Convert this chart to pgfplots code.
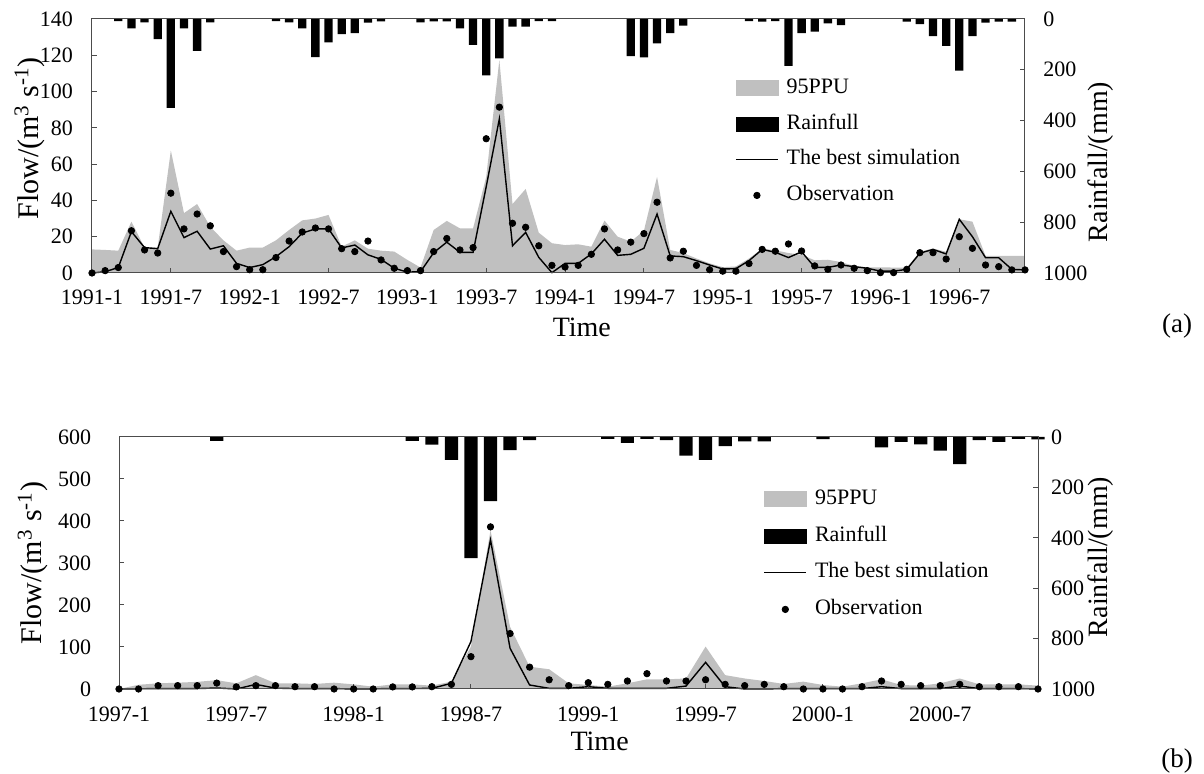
\documentclass[border=0pt]{standalone}
\usepackage{fontspec}
\setmainfont{Liberation Serif}
\usepackage{pgfplots}
\pgfplotsset{compat=1.18}
\usepackage{pgfplotstable}
\definecolor{bandgray}{RGB}{192,192,192}

\pgfplotstableread{
t band sim obs rain
0 13 0 0 nan
1 12.7 0.7 1.3 nan
2 12.3 3 3 8
3 28.3 22.8 23.3 37
4 14 14 12.7 13
5 14 13.4 11 79
6 67.5 34 44 350
7 33 19.5 24.3 37
8 38 23 32.5 126
9 25.5 13.2 26 13
10 18 15 11.8 nan
11 12.3 5.3 3.5 nan
12 14 3 1.8 nan
13 14 4.6 1.8 nan
14 18 9 8.5 8
15 23.7 14.5 17.6 13
16 29 22 22.6 37
17 30 24.3 24.8 150
18 32 24.3 24.3 92
19 14.5 13.8 13.4 60
20 18 15.4 11.8 56
21 13.4 10 17.6 14
22 12.3 7.5 7.2 9
23 11.8 2.6 2.6 nan
24 7.2 0.5 1.3 nan
25 3 0.7 1.3 13
26 23.7 11.2 11.8 9
27 28.7 17 19 9
28 24.6 11.4 12.7 37
29 24.6 11.4 14 102
30 53 47.6 74 222
31 117.5 85 91.4 155
32 38 15 27.4 30
33 46.3 22.4 25.2 30
34 22.2 8.6 15 8
35 16.4 0.2 4.2 8
36 15.4 5.3 3.3 nan
37 15.8 5.3 4.2 nan
38 14.5 10.5 10.3 nan
39 28.9 18.6 24.3 nan
40 20 9.7 12.7 nan
41 17.3 10.3 17 146
42 23.3 13.6 21.7 151
43 53 32.5 39 96
44 12.7 9.4 8.3 56
45 11 9 12 26
46 8 6.8 4.2 nan
47 5.3 4.4 1.8 nan
48 3.2 2.2 1 nan
49 3.6 2.4 1 nan
50 8 6.8 5.2 8
51 13.4 13 13 10
52 12.5 11.4 12 8
53 11 8.5 16 185
54 10 11.7 12.1 56
55 7 3.1 3.9 50
56 7.3 3.1 2 17
57 6 4.4 4.4 24
58 3.9 3.5 2.6 nan
59 3.1 2.6 1.3 nan
60 3.1 1 0.2 nan
61 3 1 0.2 nan
62 3 2 2 10
63 11.7 10.9 11.2 20
64 13.5 13 11.2 67
65 11.7 10.5 7.7 106
66 29.6 29.6 20 203
67 28.3 20 13.6 67
68 9.4 8.4 4.4 14
69 9.4 8.4 3.5 10
70 9.4 2 1.7 10
71 9.4 1.7 1.7 nan
}\dataA

\pgfplotstableread{
t band sim obs rain
0 0 0 0 nan
1 10 0.5 0 nan
2 13.5 1 8 nan
3 15 1 8 nan
4 17 1 8 nan
5 21 2.4 14 15
6 13.5 0 5 nan
7 33 11 8 nan
8 13.5 2 8 nan
9 13.5 1 5.5 nan
10 12 1 5.5 nan
11 15 1 0 nan
12 11 0 0 nan
13 5.5 0.5 0 nan
14 11 1 5 nan
15 11 1 5 15
16 8 1.6 5.5 30
17 17.5 13.5 11 91
18 101 113 77 481
19 378 355 386 254
20 148 97 132 52
21 53 9.5 52 12
22 47 1.6 22 nan
23 13.5 1.6 8 nan
24 9.5 5.5 15 nan
25 5.5 1.6 11 7
26 13.5 1.6 19 23
27 23 1.6 36.5 7
28 23 1.6 19 12
29 25 7 19 74
30 101 63.5 22 91
31 33 5.5 11 36
32 25 0 8 17
33 19 0 11 17
34 12 1 5.5 nan
35 17.5 1 0 nan
36 9.5 1 0 8
37 5.5 1 0 nan
38 13.5 1 5.5 nan
39 23 5.5 19 41
40 9.5 1 11 19
41 8 1 8 29
42 13.5 1 8 54
43 25 7 11 108
44 11 1 5.5 12
45 11 1 5.5 19
46 11 1 5.5 7
47 8 0 0 9
}\dataB

\pgfplotsset{
  common/.style={
    anchor=south west, scale only axis, clip=false,
    tick align=inside, major tick length=2.5pt,
    axis line style={black!70, line width=0.5pt},
    every tick/.style={black!70, line width=0.5pt},
    tick label style={font=\rmfamily\fontsize{11}{13}\selectfont, inner sep=0pt},
    /pgf/number format/assume math mode=true,
    /pgf/number format/1000 sep={},
  },
  rainaxis/.style={
    common, ymin=0, ymax=1000, y dir=reverse,
    axis x line=none, axis y line*=right,
    ytick={0,200,...,1000},
  },
  flowaxis/.style={
    common, axis on top,
    xtick pos=bottom, ytick pos=left,
    legend cell align=left,
  },
  ppu/.style={legend image code/.code={\fill[bandgray] (0pt,-3.75pt) rectangle (21pt,3.75pt);}},
  rainleg/.style={legend image code/.code={\fill[black] (0pt,-3.5pt) rectangle (21pt,3.5pt);}},
  simleg/.style={legend image code/.code={\draw[black, line width=0.7pt] (0pt,0pt) -- (21pt,0pt);}},
  obsleg/.style={legend image code/.code={\fill[black] (10.5pt,0pt) circle (1.6pt);}},
}

\begin{document}
\begin{tikzpicture}[x=1pt,y=1pt]
\useasboundingbox (0,0) rectangle (602,387);

% ---------------- panel (a) ----------------
\begin{axis}[rainaxis, at={(46pt,250.5pt)}, width=466.5pt, height=127pt,
  xmin=0, xmax=71,
  yticklabel style={anchor=west, xshift=9pt}]
\addplot[ybar, bar width=4.15pt, bar shift=0pt, fill=black, draw=none]
  table[x=t, y=rain]{\dataA};
\end{axis}

\begin{axis}[flowaxis, at={(46pt,250.5pt)}, width=466.5pt, height=127pt,
  xmin=0, xmax=71, ymin=0, ymax=140,
  ytick={0,20,...,140},
  xtick={0,6,...,66},
  xticklabels={1991-1,1991-7,1992-1,1992-7,1993-1,1993-7,1994-1,1994-7,1995-1,1995-7,1996-1,1996-7},
  xticklabel style={anchor=north, yshift=-8pt, text height=7.6pt, text depth=0pt},
  yticklabel style={anchor=east, xshift=-9.3pt},
  xlabel={Time},
  xlabel style={at={(axis description cs:0.525,-0.2126)}, anchor=center, font=\fontsize{14}{16}\selectfont},
  ylabel={Flow/(m\textsuperscript{3} s\textsuperscript{-1})},
  ylabel style={at={(axis description cs:-0.0665,0.53)}, anchor=center, font=\fontsize{15}{18}\selectfont},
  legend style={at={(axis description cs:0.689,0.768)}, anchor=north west, draw=none, fill=none,
    font=\fontsize{11}{13}\selectfont, row sep=7.85pt, column sep=4pt, inner sep=0pt,
    nodes={inner sep=0pt, text height=7.5pt, text depth=2.5pt, anchor=west}},
]
\addplot[fill=bandgray, draw=none, forget plot] table[x=t, y=band]{\dataA} \closedcycle;
\addplot[black, line width=0.7pt, mark=none, forget plot] table[x=t, y=sim]{\dataA};
\addplot[only marks, mark=*, mark size=1.6pt, black, forget plot] table[x=t, y=obs]{\dataA};
\addlegendimage{ppu}\addlegendentry{95PPU}
\addlegendimage{rainleg}\addlegendentry{Rainfull}
\addlegendimage{simleg}\addlegendentry{The best simulation}
\addlegendimage{obsleg}\addlegendentry{Observation}
\node[rotate=90, anchor=center, font=\fontsize{14}{16}\selectfont] at (axis description cs:1.0815,0.437) {Rainfall/(mm)};
\end{axis}

% ---------------- panel (b) ----------------
\begin{axis}[rainaxis, at={(59.5pt,42.5pt)}, width=459.5pt, height=126pt,
  xmin=0, xmax=47,
  yticklabel style={anchor=west, xshift=6.3pt}]
\addplot[ybar, bar width=6.6pt, bar shift=0pt, fill=black, draw=none]
  table[x=t, y=rain]{\dataB};
\end{axis}

\begin{axis}[flowaxis, at={(59.5pt,42.5pt)}, width=459.5pt, height=126pt,
  xmin=0, xmax=47, ymin=0, ymax=600,
  ytick={0,100,...,600},
  xtick={0,6,...,42},
  xticklabels={1997-1,1997-7,1998-1,1998-7,1999-1,1999-7,2000-1,2000-7},
  xticklabel style={anchor=north, yshift=-8.5pt, text height=7.6pt, text depth=0pt},
  yticklabel style={anchor=east, xshift=-13.8pt},
  xlabel={Time},
  xlabel style={at={(axis description cs:0.523,-0.2063)}, anchor=center, font=\fontsize{14}{16}\selectfont},
  ylabel={Flow/(m\textsuperscript{3} s\textsuperscript{-1})},
  ylabel style={at={(axis description cs:-0.0936,0.5)}, anchor=center, font=\fontsize{15}{18}\selectfont},
  legend style={at={(axis description cs:0.701,0.794)}, anchor=north west, draw=none, fill=none,
    font=\fontsize{11}{13}\selectfont, row sep=8.35pt, column sep=4pt, inner sep=0pt,
    nodes={inner sep=0pt, text height=7.5pt, text depth=2.5pt, anchor=west}},
]
\addplot[fill=bandgray, draw=none, forget plot] table[x=t, y=band]{\dataB} \closedcycle;
\addplot[black, line width=0.7pt, mark=none, forget plot] table[x=t, y=sim]{\dataB};
\addplot[only marks, mark=*, mark size=1.6pt, black, forget plot] table[x=t, y=obs]{\dataB};
\addlegendimage{ppu}\addlegendentry{95PPU}
\addlegendimage{rainleg}\addlegendentry{Rainfull}
\addlegendimage{simleg}\addlegendentry{The best simulation}
\addlegendimage{obsleg}\addlegendentry{Observation}
\node[rotate=90, anchor=center, font=\fontsize{14}{16}\selectfont] at (axis description cs:1.0686,0.524) {Rainfall/(mm)};
\end{axis}

\node[font=\fontsize{13.5}{16}\selectfont] at (588.5,224) {(a)};
\node[font=\fontsize{13.5}{16}\selectfont] at (588.5,6.5) {(b)};
\end{tikzpicture}
\end{document}
